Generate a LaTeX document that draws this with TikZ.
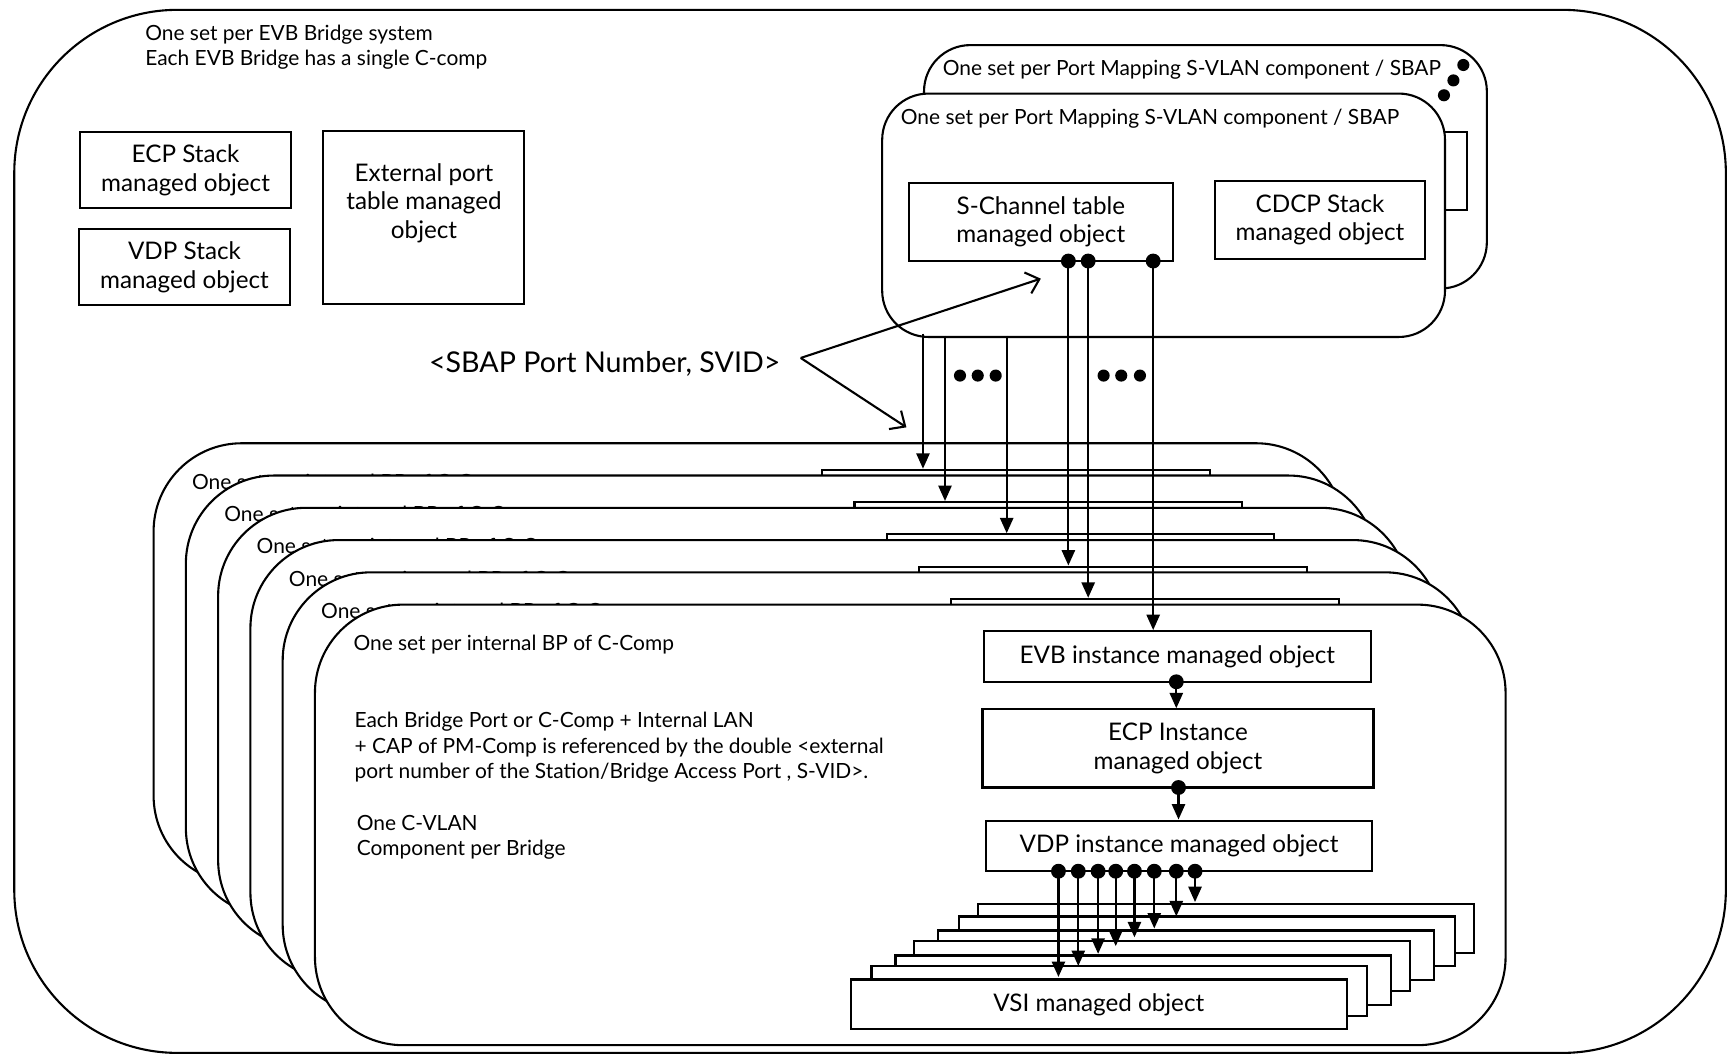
\documentclass[tikz,border=0pt]{standalone}
\usepackage{fontspec}
\setmainfont{Lato}
\usetikzlibrary{arrows.meta}
\begin{document}
\begin{tikzpicture}[x=1pt,y=-1pt,line width=1.9pt,
  small/.style={font=\fontsize{19}{23}\selectfont, inner sep=0pt},
  boxtxt/.style={font=\fontsize{22}{26}\selectfont, align=center, inner sep=0pt},
  mo/.style={draw, fill=white, inner sep=0pt, align=center, font=\fontsize{22}{26}\selectfont},
  frame/.style={draw, fill=white, inner sep=0pt, anchor=north west},
  arr/.style={-{Triangle[length=14pt,width=12pt]}},
  oarr/.style={-{Straight Barb[length=11pt,width=20pt]}},
  bdot/.style={circle, fill=black, draw=none, inner sep=0pt, minimum size=13.5pt},
  edot/.style={circle, fill=black, draw=none, inner sep=0pt, minimum size=11pt}]
\fill[white] (0,0) rectangle (1568,960);
\useasboundingbox (0,0) rectangle (1568,960);

% outer system box
\node[frame, rounded corners=148pt, minimum width=1554pt, minimum height=947pt] (outer) at (12,8) {};
\node[small, anchor=west, align=left] (systitle) at (131,43) {One set per EVB Bridge system\\Each EVB Bridge has a single C-comp};

\node[mo, minimum width=191pt, minimum height=69pt] (ecpstack) at (168.5,154.5) {ECP Stack\\managed object};
\node[mo, minimum width=191pt, minimum height=69pt] (vdpstack) at (167.5,242.5) {VDP Stack\\managed object};
\node[mo, minimum width=183pt, minimum height=157pt] (extport) at (384.5,197.5) {};
\node[boxtxt] (extlabel) at (385,184.5) {External port\\table managed\\object};

% port mapping S-VLAN component set, back copy
\begin{scope}[shift={(38,-44)}]
  \node[frame, rounded corners=42pt, minimum width=511pt, minimum height=221pt] (pmb) at (800,84) {};
  \node[small, anchor=west] (pmtb) at (817,107.5) {One set per Port Mapping S-VLAN component / SBAP};
  \node[mo, minimum width=240pt, minimum height=71pt] (schb) at (945,201.5) {};
  \node[mo, minimum width=191pt, minimum height=71pt] (cdcpb) at (1198.5,199.5) {};
\end{scope}
\node[edot] (pmd1) at (1328.6,59) {};
\node[edot] (pmd2) at (1319.6,73) {};
\node[edot] (pmd3) at (1311,86.5) {};

% port mapping S-VLAN component set, front
\node[frame, rounded corners=42pt, minimum width=511pt, minimum height=221pt] (pmf) at (800,84) {};
\node[small, anchor=west] (pmtf) at (817,107.5) {One set per Port Mapping S-VLAN component / SBAP};
\node[mo, minimum width=240pt, minimum height=71pt] (schf) at (945,201.5) {S-Channel table\\managed object};
\node[mo, minimum width=191pt, minimum height=71pt] (cdcpf) at (1198.5,199.5) {CDCP Stack\\managed object};

% internal bridge port sets (k=5 back ... k=0 front)
\foreach \k in {5,4,3,2,1,0}{
  \begin{scope}[shift={(-29.3*\k,-29.3*\k)}]
    \node[frame, rounded corners=80pt, minimum width=1081pt, minimum height=400pt] (lay\k) at (285,548) {};
    \node[small, anchor=west] (lt\k) at (320,585.5) {One set per internal BP of C-Comp};
    \ifnum\k=0
      \node[mo, minimum width=352pt, minimum height=46pt] (evb\k) at (1069,596) {EVB instance managed object};
    \else
      \node[mo, minimum width=352pt, minimum height=46pt] (evb\k) at (1069,596) {};
    \fi
  \end{scope}
}

% contents of the front set
\node[small, anchor=west, align=left] (para) at (321,678.5) {Each Bridge Port or C-Comp + Internal LAN\\+ CAP of PM-Comp is referenced by the double <external\\port number of the Station/Bridge Access Port , S-VID>.};
\node[small, anchor=west, align=left] (cvlan) at (323,760.5) {One C-VLAN\\Component per Bridge};
\node[mo, minimum width=355pt, minimum height=71pt] (ecp) at (1069.5,679.5) {ECP Instance\\managed object};
\node[mo, minimum width=351pt, minimum height=46pt] (vdp) at (1070.5,768) {VDP instance managed object};
\foreach \vx/\vy [count=\j] in {887.4/819.6, 869.7/831.2, 850.9/843.9, 829/853.6, 812.1/866.6, 790.3/876.3}{
  \node[mo, minimum width=450pt, minimum height=45pt, anchor=north west] (vsi\j) at (\vx,\vy) {};
}
\node[mo, minimum width=450pt, minimum height=45pt, anchor=north west] (vsi7) at (771.7,888.4) {VSI managed object};

\node[bdot] (de) at (1068,619) {};
\draw[arr] (de.center) -- (de.center |- ecp.north);
\node[bdot] (dc) at (1070,715) {};
\draw[arr] (dc.center) -- (dc.center |- vdp.north);
\foreach \dx/\ty [count=\j] in {961/887, 979/877, 997/866, 1013/859, 1030/851, 1048/843, 1068/832, 1085/819}{
  \node[bdot] (dv\j) at (\dx,791) {};
  \coordinate (tv\j) at (\dx,\ty);
  \draw[arr] (dv\j.center) -- (tv\j);
}

% connectors from the port mapping component to the EVB instances
\coordinate (ps1) at (838,303);
\coordinate (ps2) at (858,305);
\coordinate (ps3) at (914,305);
\draw[arr] (ps1) -- (ps1 |- evb5.north);
\draw[arr] (ps2) -- (ps2 |- evb4.north);
\draw[arr] (ps3) -- (ps3 |- evb3.north);
\node[bdot] (sd1) at (970,237) {};
\node[bdot] (sd2) at (988,237) {};
\node[bdot] (sd3) at (1047,237) {};
\draw[arr] (sd1.center) -- (sd1.center |- evb2.north);
\draw[arr] (sd2.center) -- (sd2.center |- evb1.north);
\draw[arr] (sd3.center) -- (sd3.center |- evb0.north);

\foreach \ex [count=\j] in {871.6,887.7,904}{\node[edot] (ea\j) at (\ex,341) {};}
\foreach \ex [count=\j] in {1002,1018,1035}{\node[edot] (eb\j) at (\ex,341) {};}

% SBAP label and its arrows
\node[font=\fontsize{26}{30}\selectfont, inner sep=0pt] (sbap) at (549,330) {<SBAP Port Number, SVID>};
\coordinate (fork) at (727,325);
\coordinate (sa) at (945,253);
\coordinate (sb) at (823,388);
\draw[oarr] (fork) -- (sa);
\draw[oarr] (fork) -- (sb);
\end{tikzpicture}
\end{document}
